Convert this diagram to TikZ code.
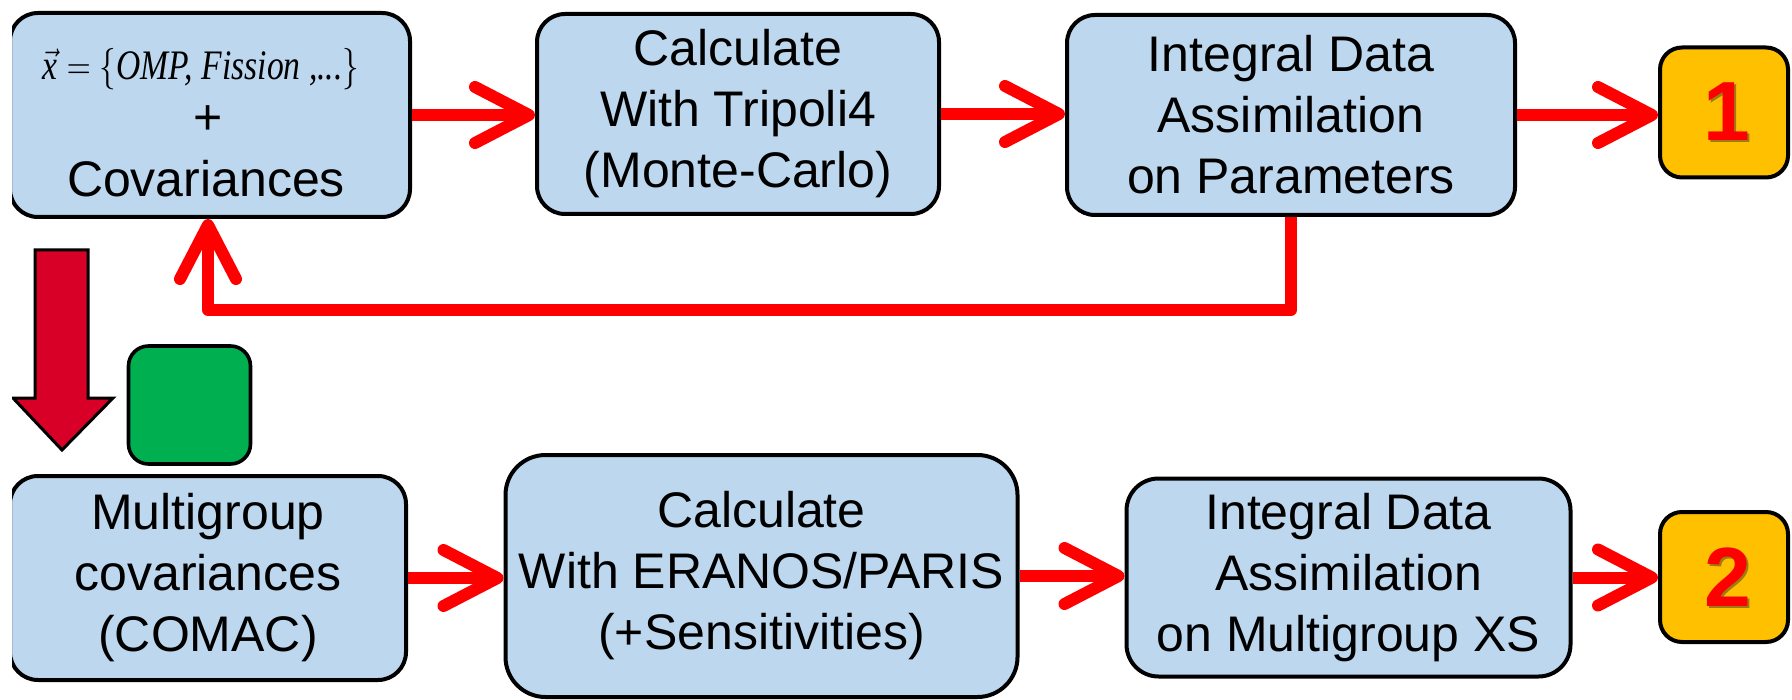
\documentclass[tikz,border=0pt]{standalone}
\usepackage{graphicx}
\usepackage{fontspec}
\setmainfont{Liberation Sans}
\newfontfamily\tms{Liberation Serif}
\usetikzlibrary{arrows.meta}
\definecolor{boxblue}{HTML}{BDD7EE}
\definecolor{ybox}{HTML}{FFC000}
\definecolor{gbox}{HTML}{00B050}
\definecolor{blockred}{HTML}{D80027}
\definecolor{shadowc}{HTML}{A07A10}
\tikzset{
  box/.style={draw=black, line width=2pt, fill=boxblue, rounded corners=14pt,
    inner sep=0pt, align=center, font=\fontsize{25}{30.5}\selectfont},
  ybox/.style={draw=black, line width=2pt, fill=ybox, rounded corners=11pt,
    inner sep=0pt, minimum width=64pt, minimum height=65pt},
  num/.style={text=red, font=\fontsize{42}{42}\selectfont\bfseries, inner sep=0pt},
  lbl/.style={inner sep=0pt, anchor=base},
  flow/.style={draw=red, line width=6pt, line join=round,
    -{Straight Barb[length=27pt,width=28pt,round]}},
}
\newcommand{\shnum}[1]{\makebox[0pt][l]{\hspace{1pt}\raisebox{-1pt}{\color{shadowc}#1}}#1}
\begin{document}
\begin{tikzpicture}[x=0.5pt,y=-0.5pt]
\useasboundingbox (0,0) rectangle (1792,700);
\begin{scope}
\clip (12,0) rectangle (1792,700);
% top row
\node[box, minimum width=200pt, minimum height=102pt] (b1) at (210,115) {};
\node[lbl, font=\tms\fontsize{21}{24}\selectfont] (t1a) at (201,80)
  {\scalebox{0.8}[1]{$\vec{\hbox{\tms\itshape x}}=\Bigl\{$\itshape OMP, Fission ,...$\Bigr\}$}};
\node[lbl, font=\fontsize{25}{30}\selectfont] (t1b) at (208,135) {+};
\node[lbl, font=\fontsize{25}{30}\selectfont] (t1c) at (206,197) {Covariances};
\node[box, minimum width=201pt, minimum height=100pt] (b2) at (738,114)
  {Calculate\\With Tripoli4\\(Monte-Carlo)};
\node[box, minimum width=224pt, minimum height=100pt] (b3) at (1291,115)
  {Integral Data\\Assimilation\\on Parameters};
\node[ybox] (y1) at (1724,112.5) {};
\node[num] (n1) at (1727,113) {\shnum{1}};
% bottom row
\node[box, minimum width=198pt, minimum height=102pt] (b4) at (208,578)
  {Multigroup\\covariances\\(COMAC)};
\node[box, rounded corners=20pt, minimum width=256pt, minimum height=121pt] (b5) at (761.5,576)
  {Calculate\\With ERANOS/PARIS\\(+Sensitivities)};
\node[box, rounded corners=16pt, minimum width=222pt, minimum height=99pt] (b6) at (1348.5,577.5)
  {Integral Data\\Assimilation\\on Multigroup XS};
\node[ybox] (y2) at (1724,577) {};
\node[num] (n2) at (1728,578) {\shnum{2}};
% green box
\node[draw=black, line width=1.8pt, fill=gbox, rounded corners=10pt, inner sep=0pt,
  minimum width=61pt, minimum height=59pt] (g) at (189.5,405) {};
% block arrow
\draw[black, line width=1.5pt, fill=blockred, line join=miter]
  (35,250) -- (88,250) -- (88,398) -- (113,398) -- (62,450) -- (13,398) -- (35,398) -- cycle;
% connectors
\draw[flow] (b1.east) -- (b1.east -| b2.west);
\draw[flow] (b2.east) -- (b2.east -| b3.west);
\draw[flow] (b3.east) -- (b3.east -| y1.west);
\draw[flow] (b4.east) -- (b4.east -| b5.west);
\draw[flow] (b5.east) -- (b5.east -| b6.west);
\draw[flow] (b6.east) -- (b6.east -| y2.west);
\coordinate (fb) at (208,310);
\draw[flow] (b3.south) |- (fb) -- (b1.south -| fb);
\end{scope}
\end{tikzpicture}
\end{document}
